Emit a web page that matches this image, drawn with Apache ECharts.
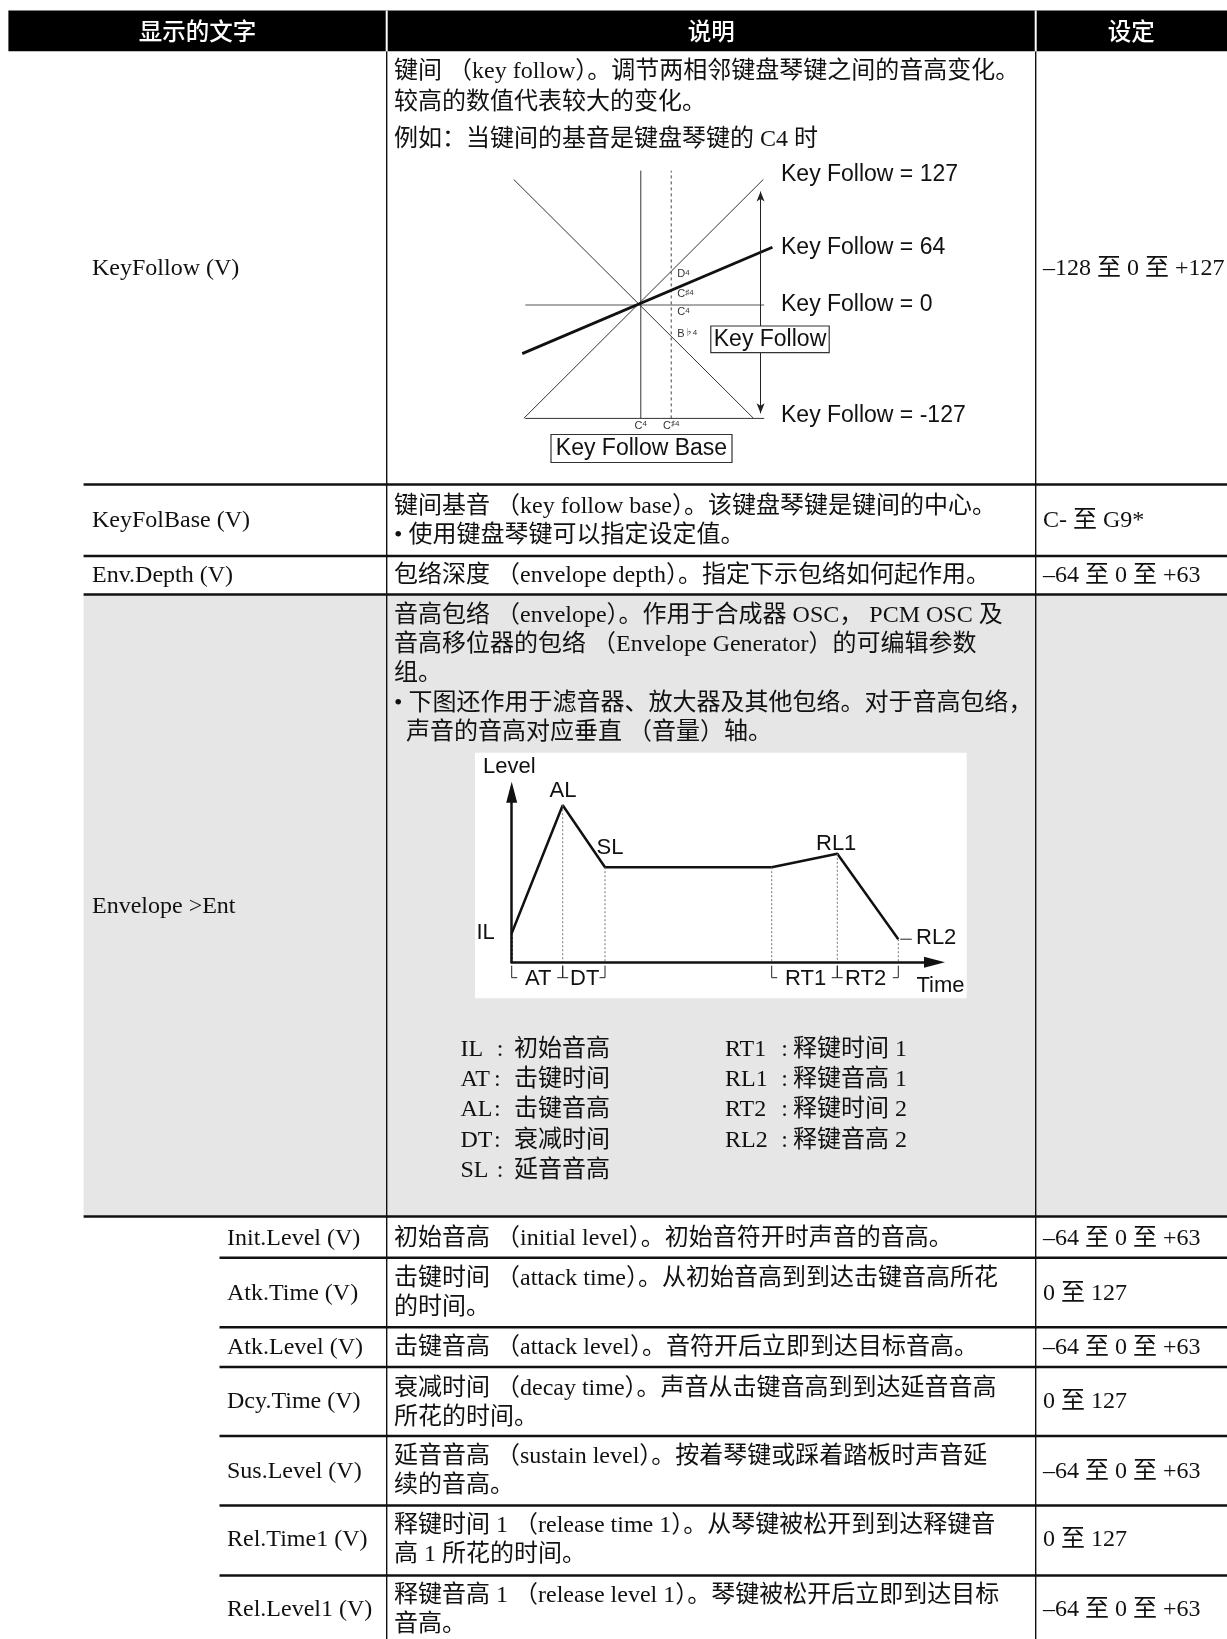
<!DOCTYPE html>
<html><head><meta charset="utf-8">
<script src="https://cdn.jsdelivr.net/npm/echarts@6/dist/echarts.min.js"></script>
<style>html,body{margin:0;padding:0;background:#fff}#c{width:1227px;height:1639px}</style>
</head><body><div id="c"></div>
<script>
// ================= DATA =================
const headerLabels = ['显示的文字', '说明', '设定'];
const mainNames = ['KeyFollow (V)', 'KeyFolBase (V)', 'Env.Depth (V)', 'Envelope >Ent'];
const mainSettings = ['–128 至 0 至 +127', 'C- 至 G9*', '–64 至 0 至 +63', ''];
const mainDesc = [
  ['键间 （key follow）。调节两相邻键盘琴键之间的音高变化。', '较高的数值代表较大的变化。'],
  ['键间基音 （key follow base）。该键盘琴键是键间的中心。', '• 使用键盘琴键可以指定设定值。'],
  ['包络深度 （envelope depth）。指定下示包络如何起作用。'],
  ['音高包络 （envelope）。作用于合成器 OSC， PCM OSC 及', '音高移位器的包络 （Envelope Generator）的可编辑参数', '组。', '• 下图还作用于滤音器、放大器及其他包络。对于音高包络，', '  声音的音高对应垂直 （音量）轴。']
];
const exampleText = '例如：当键间的基音是键盘琴键的 C4 时';
const subNames = ['Init.Level (V)', 'Atk.Time (V)', 'Atk.Level (V)', 'Dcy.Time (V)', 'Sus.Level (V)', 'Rel.Time1 (V)', 'Rel.Level1 (V)'];
const subDesc = [
  ['初始音高 （initial level）。初始音符开时声音的音高。'],
  ['击键时间 （attack time）。从初始音高到到达击键音高所花', '的时间。'],
  ['击键音高 （attack level）。音符开后立即到达目标音高。'],
  ['衰减时间 （decay time）。声音从击键音高到到达延音音高', '所花的时间。'],
  ['延音音高 （sustain level）。按着琴键或踩着踏板时声音延', '续的音高。'],
  ['释键时间 1 （release time 1）。从琴键被松开到到达释键音', '高 1 所花的时间。'],
  ['释键音高 1 （release level 1）。琴键被松开后立即到达目标', '音高。']
];
const subSettings = ['–64 至 0 至 +63', '0 至 127', '–64 至 0 至 +63', '0 至 127', '–64 至 0 至 +63', '0 至 127', '–64 至 0 至 +63'];
const legendLeftCodes = ['IL', 'AT', 'AL', 'DT', 'SL'];
const legendLeftText = ['初始音高', '击键时间', '击键音高', '衰减时间', '延音音高'];
const legendRightCodes = ['RT1', 'RL1', 'RT2', 'RL2'];
const legendRightText = ['释键时间 1', '释键音高 1', '释键时间 2', '释键音高 2'];

// Key follow diagram (x: keys from base C4, y: pitch offset)
const kf127 = [[-3.85, -3.73], [4.03, 4.13]];
const kfMinus127 = [[-4.18, 4.13], [3.71, -3.73]];
const kf64 = [[-3.9, -1.6], [4.33, 1.9]];
const kf0 = [[-3.8, 0], [4.06, 0]];
const kfBase = [[-3.8, -3.73], [4.06, -3.73]];
const kfC4 = [[0, -3.73], [0, 4.42]];
const kfCs4 = [[1, -3.73], [1, 4.42]];
const kfArrow = [[3.94, 3.73], [3.94, -3.56]];
const kfLabels = ['Key Follow = 127', 'Key Follow = 64', 'Key Follow = 0', 'Key Follow = -127'];

// Envelope diagram (time, level)
const envTime = [0, 5.1, 9.33, 26, 32.56, 38.66];
const envLevel = [2.9, 15.7, 9.5, 9.5, 10.84, 2.3];
const bracketKinds = ['L', 'T', 'R', 'L', 'T', 'R'];

// ================= LAYOUT =================
const W = 1227, H = 1639;
const colX = [386.7, 1035.7];
const serif = '"Liberation Serif", "Noto Sans CJK SC", serif';
const sans = '"Liberation Sans", "Noto Sans CJK SC", sans-serif';
const FS = 24;
const DY = 1;
const mainRowY = [267.5, 519.4, 574.8, 906.1];
const mainDescY = [71.1, 505.8, 574.8, 614.5];
const subRowY = [1237.3, 1292.5, 1346.4, 1401, 1470.5, 1539, 1608.4];
const subDescY = [1237.3, 1277.5, 1346.4, 1387.5, 1455.5, 1525, 1595];
const LH = 29.3;
const hLinesMain = [484.5, 556, 594.5, 1216.5];
const hLinesSub = [1257.8, 1327.3, 1367, 1436, 1505.5, 1575.5];

const g = [];
function txt(x, y, s, o) {
  o = o || {};
  g.push({ type: 'text', silent: true, z: 10, style: Object.assign({
    x: x, y: y + DY, text: s, fontSize: FS, fontFamily: serif, fill: '#111',
    align: 'left', verticalAlign: 'middle' }, o) });
}
function line(x1, y1, x2, y2, w, c, z) {
  g.push({ type: 'line', silent: true, z: z || 5, shape: { x1, y1, x2, y2 }, style: { stroke: c || '#111', lineWidth: w } });
}
function rect(x, y, w, h, fill, stroke, z) {
  g.push({ type: 'rect', silent: true, z: z || 1, shape: { x, y, width: w, height: h },
    style: { fill: fill || 'none', stroke: stroke || null, lineWidth: stroke ? 1.2 : 0 } });
}

// backgrounds
rect(83.6, 594.5, W - 83.6, 1216.5 - 594.5, '#e6e6e6');
rect(475, 752.7, 491.7, 245.6, '#ffffff');
// header
rect(8.4, 10.5, W - 8.4, 40.8, '#000', null, 6);
const headerCx = [(8.4 + colX[0]) / 2, (colX[0] + colX[1]) / 2, (colX[1] + W) / 2];
headerLabels.forEach((s, i) => txt(headerCx[i], 30, s, { fill: '#fff', align: 'center', fontFamily: '"Noto Sans CJK SC", sans-serif', fontWeight: 500, fontSize: 23.5 }));
colX.forEach(x => line(x, 10.5, x, 51.3, 2, '#fff', 7));
// grid lines
colX.forEach(x => line(x, 51.3, x, H, 1.4));
hLinesMain.forEach(y => line(83.6, y, W, y, 2.4));
hLinesSub.forEach(y => line(219.5, y, W, y, 2.4));

// main rows
mainNames.forEach((s, i) => txt(92, mainRowY[i], s));
mainSettings.forEach((s, i) => { if (s) txt(1043, mainRowY[i], s); });
mainDesc.forEach((lines, i) => lines.forEach((s, j) => txt(394, mainDescY[i] + j * (i === 0 ? 30.3 : LH), s)));
txt(394, 139, exampleText);
// sub rows
subNames.forEach((s, i) => txt(227, subRowY[i], s));
subSettings.forEach((s, i) => txt(1043, subRowY[i], s));
subDesc.forEach((lines, i) => lines.forEach((s, j) => txt(394, subDescY[i] + j * 29, s)));
// legend
const legY = [1049, 1078.5, 1109, 1140, 1169.5];
const legColonX = [500, 497.3, 497.3, 497.3, 500];
legendLeftCodes.forEach((s, i) => {
  txt(460.5, legY[i], s); txt(legColonX[i], legY[i], ':', { align: 'center' }); txt(514, legY[i], legendLeftText[i]);
});
legendRightCodes.forEach((s, i) => {
  txt(725, legY[i], s); txt(784.5, legY[i], ':', { align: 'center' }); txt(793, legY[i], legendRightText[i]);
});

// key follow diagram labels
const kfLabelY = [174, 246.5, 303.5, 415];
kfLabels.forEach((s, i) => txt(781, kfLabelY[i], s, { fontFamily: sans, fontSize: 23 }));
rect(710.8, 326, 118.4, 26.7, '#fff', '#333', 8);
txt(770, 339, 'Key Follow', { fontFamily: sans, fontSize: 23, align: 'center' });
rect(551, 434.5, 181, 28, '#fff', '#333', 8);
txt(641.5, 448, 'Key Follow Base', { fontFamily: sans, fontSize: 23, align: 'center' });
const richSmall = { n: { fontSize: 11, fontFamily: sans, fill: '#333' }, s: { fontSize: 8, fontFamily: sans, fill: '#333', padding: [0, 0, 4, 0] } };
[['{n|D}{s|4}', 274.3], ['{n|C}{s|♯4}', 294.3], ['{n|C}{s|4}', 312.3], ['{n|B}{s|♭4}', 334.3]].forEach(a =>
  g.push({ type: 'text', silent: true, z: 10, style: { x: 677.3, y: a[1], text: a[0], rich: richSmall, verticalAlign: 'middle' } }));
[['{n|C}{s|4}', 640.8], ['{n|C}{s|♯4}', 671.2]].forEach(a =>
  g.push({ type: 'text', silent: true, z: 10, style: { x: a[1], y: 425.5, text: a[0], rich: richSmall, align: 'center', verticalAlign: 'middle' } }));

// envelope labels
const es = { fontFamily: sans, fontSize: 22 };
txt(483, 766, 'Level', es);
txt(563, 789.5, 'AL', Object.assign({ align: 'center' }, es));
txt(596.5, 847, 'SL', es);
txt(816, 843, 'RL1', es);
txt(476.5, 932, 'IL', es);
txt(916, 937, 'RL2', es);
txt(525, 978, 'AT', es);
txt(570, 978, 'DT', es);
txt(785, 978, 'RT1', es);
txt(845, 978, 'RT2', es);
txt(916.5, 985, 'Time', es);

// ================= SERIES =================
function ln(data, gi, w, type, color, extra) {
  return Object.assign({ type: 'line', xAxisIndex: gi, yAxisIndex: gi, data: data, symbol: 'none', clip: false,
    silent: true, animation: false, z: 4,
    lineStyle: { width: w, type: type || 'solid', color: color || '#111', cap: 'butt' } }, extra || {});
}
const series = [];
// key follow
series.push(ln(kf127, 0, 1, 'solid', '#333'));
series.push(ln(kfMinus127, 0, 1, 'solid', '#333'));
series.push(ln(kf0, 0, 1, 'solid', '#555'));
series.push(ln(kfBase, 0, 1, 'solid', '#333'));
series.push(ln(kfC4, 0, 1, 'solid', '#333'));
series.push(ln(kfCs4, 0, 1, [3, 3], '#444'));
series.push(ln(kf64, 0, 2.8, 'solid', '#111'));
series.push(ln([], 0, 1, 'solid', '#222', {
  markLine: { silent: true, animation: false, symbol: ['arrow', 'arrow'], symbolSize: [6, 10],
    lineStyle: { color: '#222', width: 1, type: 'solid' }, label: { show: false },
    data: [[{ coord: kfArrow[0] }, { coord: kfArrow[1] }]] }
}));
// envelope
series.push(ln(envTime.map((t, i) => [t, envLevel[i]]), 1, 2.5, 'solid', '#111'));
envTime.forEach((t, i) => series.push(ln([[t, envLevel[i]], [t, 0]], 1, i === 0 ? 2 : 1, [2, 2], i === 0 ? '#222' : '#777')));
const bTop = -0.35, bBot = -1.55, arm = 0.55;
envTime.forEach((t, i) => {
  const k = bracketKinds[i];
  let d;
  if (k === 'L') d = [[t, bTop], [t, bBot], [t + arm, bBot]];
  else if (k === 'R') d = [[t - arm, bBot], [t, bBot], [t, bTop]];
  else d = [[t - arm, bBot], [t, bBot], [t, bTop], [t, bBot], [t + arm, bBot]];
  series.push(ln(d, 1, 1, 'solid', '#222'));
});
series.push(ln([[-1.34, envLevel[0]], [-0.3, envLevel[0]]], 1, 1, 'solid', '#222'));
series.push(ln([[envTime[5] + 0.2, envLevel[5]], [envTime[5] + 1.35, envLevel[5]]], 1, 1, 'solid', '#222'));

const hiddenAxis = (min, max) => ({ type: 'value', min, max, show: true,
  axisLine: { show: false }, axisTick: { show: false }, axisLabel: { show: false }, splitLine: { show: false } });
const arrowAxis = (min, max) => ({ type: 'value', min, max, z: 20, gridIndex: 1,
  axisLine: { show: true, onZero: false, symbol: ['none', 'triangle'], symbolSize: [11, 21], lineStyle: { color: '#111', width: 2.5 } },
  axisTick: { show: false }, axisLabel: { show: false }, splitLine: { show: false } });

const chart = echarts.init(document.getElementById('c'), null, { renderer: 'canvas', width: W, height: H });
chart.setOption({
  backgroundColor: '#fff',
  animation: false,
  grid: [
    { left: 488.8, top: 153, width: 304, height: 304, containLabel: false },
    { left: 511.7, top: 792.2, width: 422.8, height: 170, containLabel: false }
  ],
  xAxis: [hiddenAxis(-5, 5), arrowAxis(0, 42.28)],
  yAxis: [hiddenAxis(-5, 5), arrowAxis(0, 17)],
  series: series,
  graphic: g
});
</script></body></html>
